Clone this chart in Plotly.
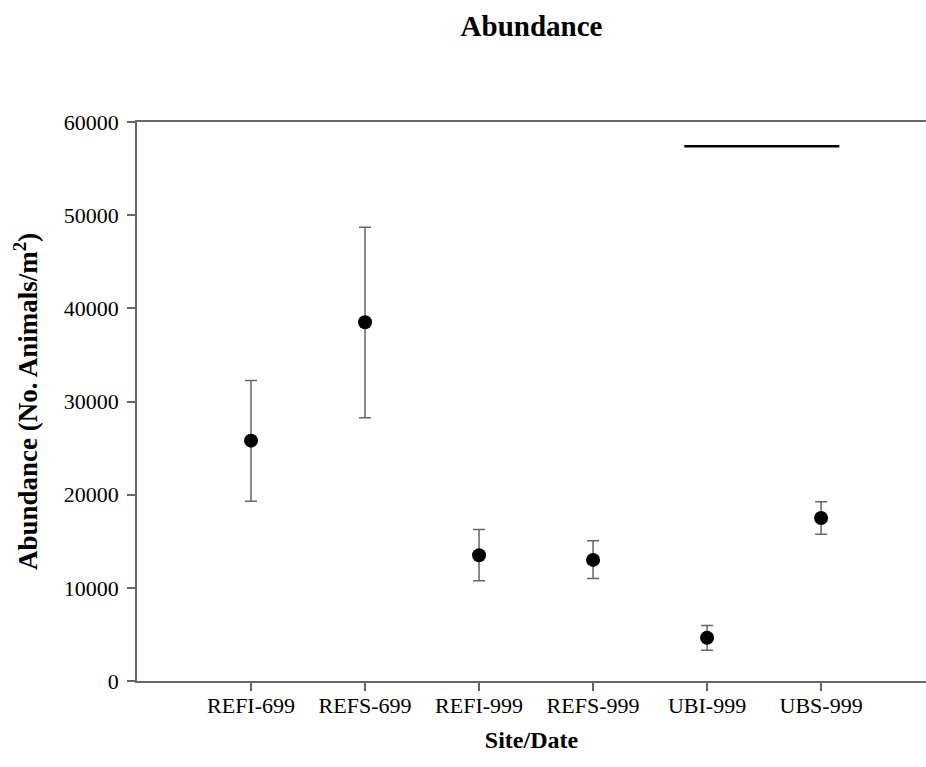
import plotly.graph_objects as go

categories = ["REFI-699", "REFS-699", "REFI-999", "REFS-999", "UBI-999", "UBS-999"]
means = [25800, 38500, 13500, 13000, 4650, 17500]
err_plus = [6450, 10200, 2750, 2050, 1300, 1750]
err_minus = [6500, 10250, 2750, 2000, 1350, 1750]
bar_x = [3.8, 5.16]
bar_y = [57400, 57400]

xpos = list(range(len(categories)))
FONT = "Liberation Serif, Times New Roman, serif"
AX = "#666666"

W, H = 926, 767

fig = go.Figure()
fig.add_trace(go.Scatter(
    x=xpos, y=means, mode="markers",
    marker=dict(color="black", size=14),
    error_y=dict(type="data", symmetric=False, array=err_plus, arrayminus=err_minus,
                 color=AX, thickness=1.5, width=6),
    showlegend=False,
))
fig.add_trace(go.Scatter(
    x=bar_x, y=bar_y, mode="lines",
    line=dict(color="black", width=2.5), showlegend=False,
))

fig.update_layout(
    width=W, height=H,
    margin=dict(l=137, r=0, t=122, b=86),
    paper_bgcolor="white", plot_bgcolor="white",
    font=dict(family=FONT, size=22, color="black"),
    title=dict(text="<b>Abundance</b>", x=(137 + W) / 2 / W, xanchor="center",
               y=1 - 26 / H, yanchor="middle", font=dict(size=29, family=FONT)),
)
fig.update_xaxes(
    range=[-1, 5.92], tickmode="array", tickvals=xpos, ticktext=categories,
    showline=True, linecolor=AX, linewidth=1.5, mirror=True,
    ticks="outside", ticklen=8, tickcolor=AX, tickwidth=1.5,
    showgrid=False, zeroline=False, ticklabelstandoff=-4,
    tickfont=dict(size=22, family=FONT),
    title=dict(text="<b>Site/Date</b>", font=dict(size=24, family=FONT), standoff=14),
)
fig.update_yaxes(
    range=[0, 60000], tickvals=[0, 10000, 20000, 30000, 40000, 50000, 60000],
    tickformat="d",
    showline=True, linecolor=AX, linewidth=1.5,
    ticks="outside", ticklen=8, tickcolor=AX, tickwidth=1.5,
    showgrid=False, zeroline=False, ticklabelstandoff=4,
    tickfont=dict(size=22, family=FONT),
    title=dict(text="<b>Abundance (No. Animals/m<sup>2</sup>)</b>", font=dict(size=27, family=FONT), standoff=18),
)

fig.write_html(
    "out.html",
    config={"displayModeBar": False},
    post_script="document.body.style.margin='0';document.body.style.overflow='hidden';",
)
